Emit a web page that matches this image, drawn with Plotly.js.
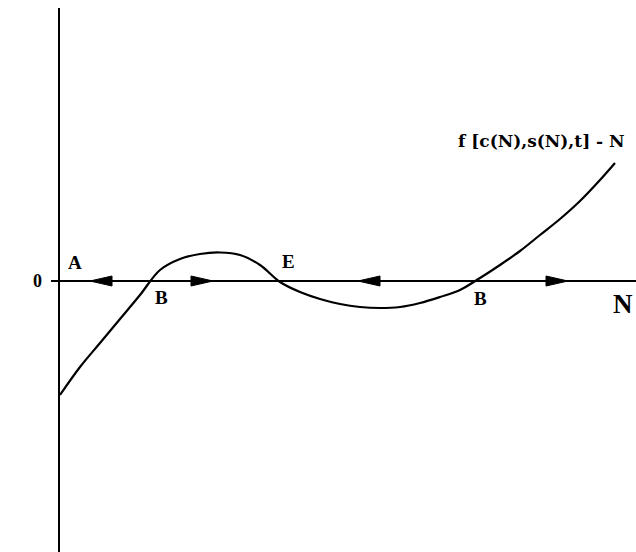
<!DOCTYPE html>
<html>
<head>
<meta charset="utf-8">
<script src="https://cdn.plot.ly/plotly-3.0.1.min.js"></script>
<style>
  html, body { margin: 0; padding: 0; background: #fff; }
  #chart { width: 636px; height: 552px; }
</style>
</head>
<body>
<div id="chart"></div>
<script>
// curve f - N (x: N, y: f - N)
var curveN = [0, 20, 40, 60, 80, 100, 120, 140, 160, 180, 200, 220, 240, 260, 280, 300, 320, 340, 360, 380, 400, 420, 440, 460, 480, 500, 520, 540, 555];
var curveF = [-114, -86, -62, -38, -14, 11, 22, 27, 28.5, 26, 16, -1, -11, -18, -23, -26, -27, -26, -22, -16, -9, 3, 16, 30, 46, 62, 80, 101, 118];

// arrows on the N axis: tip position and direction
var arrowTip = [30, 153, 298, 508];
var arrowDir = [-1, 1, -1, 1];

// point labels
var labelText = ['A', 'B', 'E', 'B'];
var labelX = [15, 101, 228, 420];
var labelY = [19, -16, 20, -17];

var headLen = 22, headHalf = 5;

var traces = [{
  x: curveN,
  y: curveF,
  mode: 'lines',
  type: 'scatter',
  line: { color: 'black', width: 2.2, shape: 'spline', smoothing: 1 },
  hoverinfo: 'skip'
}];

// build each arrow head as a filled triangle
for (var i = 0; i < arrowTip.length; i++) {
  var tip = arrowTip[i], base = tip - arrowDir[i] * headLen;
  traces.push({
    x: [tip, base, base, tip],
    y: [0, headHalf, -headHalf, 0],
    mode: 'lines',
    type: 'scatter',
    fill: 'toself',
    fillcolor: 'black',
    line: { color: 'black', width: 1 },
    hoverinfo: 'skip'
  });
}

var serif = 'Liberation Serif, Times New Roman, serif';
var wide = 'DejaVu Serif, serif';
var annotations = [];
for (var j = 0; j < labelText.length; j++) {
  annotations.push({
    x: labelX[j], y: labelY[j], xref: 'x', yref: 'y',
    text: '<b>' + labelText[j] + '</b>', showarrow: false,
    font: { family: serif, size: 19, color: 'black' }
  });
}
annotations.push({
  x: -32, y: 259, xref: 'x', yref: 'y', text: '<b>f-N</b>', showarrow: false,
  font: { family: serif, size: 27, color: 'black' }
});
annotations.push({
  x: 563, y: -23, xref: 'x', yref: 'y', text: '<b>N</b>', showarrow: false,
  font: { family: serif, size: 27, color: 'black' }
});
annotations.push({
  x: 481, y: 140, xref: 'x', yref: 'y', text: '<b>f [c(N),s(N),t] - N</b>', showarrow: false,
  font: { family: wide, size: 17, color: 'black' }
});

var layout = {
  width: 636,
  height: 552,
  margin: { l: 60, r: 0, t: 8, b: 0 },
  paper_bgcolor: 'white',
  plot_bgcolor: 'white',
  showlegend: false,
  xaxis: {
    range: [0, 576],
    showgrid: false,
    zeroline: false,
    showline: false,
    showticklabels: false,
    ticks: ''
  },
  yaxis: {
    range: [-271, 273],
    showgrid: false,
    zeroline: true,
    zerolinecolor: 'black',
    zerolinewidth: 2.5,
    showline: true,
    linecolor: 'black',
    linewidth: 2.5,
    tickvals: [0],
    ticktext: ['<b>0</b>'],
    ticks: 'outside',
    ticklen: 7,
    tickwidth: 2,
    tickcolor: 'black',
    ticklabelstandoff: 5,
    tickfont: { family: serif, size: 18, color: 'black' }
  },
  annotations: annotations
};

Plotly.newPlot('chart', traces, layout, { displayModeBar: false, staticPlot: true });
</script>
</body>
</html>
